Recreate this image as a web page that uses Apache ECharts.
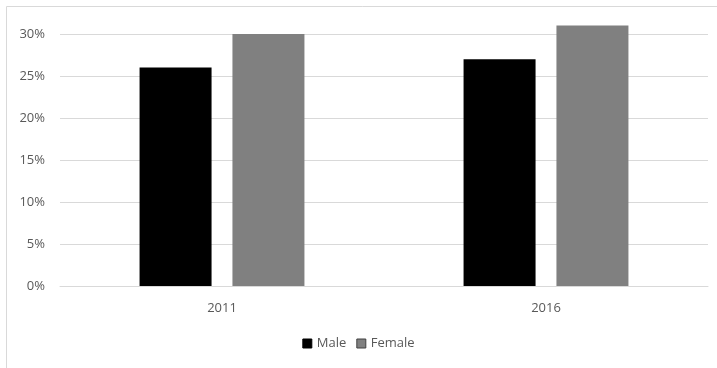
<!DOCTYPE html>
<html><head><meta charset="utf-8">
<script src="https://cdn.jsdelivr.net/npm/echarts@6/dist/echarts.min.js"></script>
<style>html,body{margin:0;padding:0;background:#fff}#c{width:717px;height:368px}</style>
</head><body><div id="c"></div>
<script>
const categories = ['2011', '2016'];
const maleValues = [26, 27];
const femaleValues = [30, 31];
const yTicks = [0, 5, 10, 15, 20, 25, 30];

const chart = echarts.init(document.getElementById('c'));
const font = 'Open Sans';
chart.setOption({
  animation: false,
  graphic: [{type: 'rect', shape: {x: 6.5, y: 6.5, width: 730, height: 380}, style: {fill: 'none', stroke: '#d9d9d9', lineWidth: 1}, silent: true}],
  grid: {left: 60, right: 9, top: 34, bottom: 82, containLabel: false},
  legend: {
    bottom: 13, left: 'center', itemWidth: 9, itemHeight: 9, itemGap: 10,
    textStyle: {color: '#595959', fontFamily: font, fontSize: 13},
    data: [
      {name: 'Male', icon: 'rect', itemStyle: {color: '#000', borderColor: '#000', borderWidth: 1}},
      {name: 'Female', icon: 'rect', itemStyle: {color: '#808080', borderColor: '#404040', borderWidth: 1}}
    ]
  },
  xAxis: {
    type: 'category', data: categories,
    axisLine: {show: true, lineStyle: {color: '#d9d9d9'}}, axisTick: {show: false},
    axisLabel: {color: '#595959', fontFamily: font, fontSize: 13, margin: 16}
  },
  yAxis: {
    type: 'value', min: yTicks[0], max: yTicks[yTicks.length - 1], interval: 5,
    axisLine: {show: false}, axisTick: {show: false},
    splitLine: {lineStyle: {color: '#d9d9d9'}},
    axisLabel: {color: '#595959', fontFamily: font, fontSize: 13, margin: 15, formatter: v => v + '%'}
  },
  series: [
    {name: 'Male', type: 'bar', data: maleValues, barWidth: 72, barGap: '29%', clip: false, itemStyle: {color: '#000'}},
    {name: 'Female', type: 'bar', data: femaleValues, barWidth: 72, clip: false, itemStyle: {color: '#808080'}}
  ]
});
</script></body></html>
